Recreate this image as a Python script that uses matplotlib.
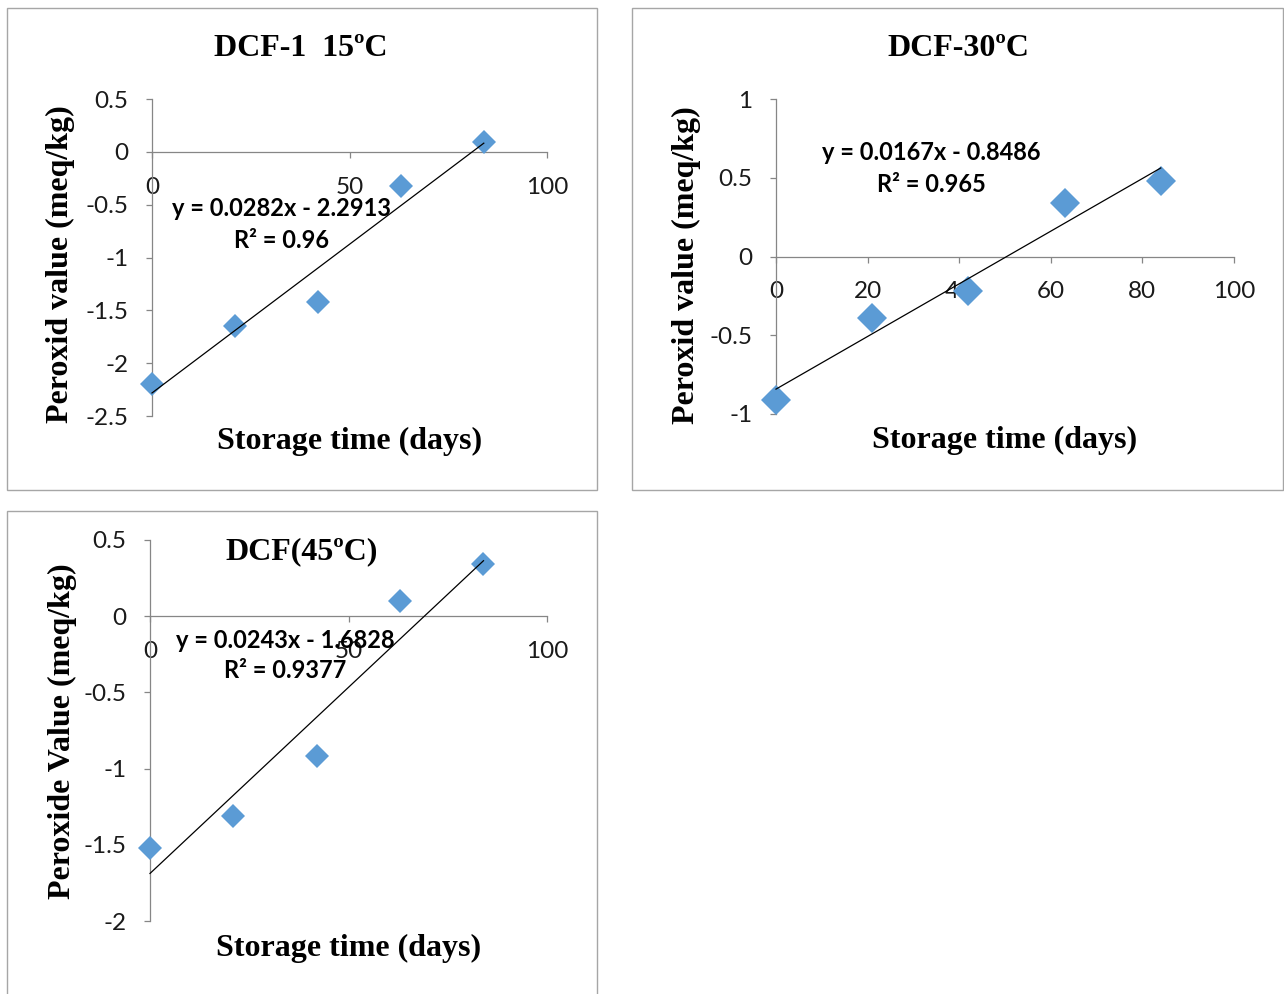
"""
    Peroxide value vs storage time, three DCF panels
"""

import matplotlib
matplotlib.use('Agg')
import matplotlib.pyplot as plt
from matplotlib.patches import Rectangle
import numpy as np

W, H = 1284, 994

days = [0, 21, 42, 63, 84]

pv_15 = [-2.20, -1.65, -1.42, -0.32, 0.09]
pv_30 = [-0.91, -0.39, -0.22, 0.34, 0.48]
pv_45 = [-1.52, -1.31, -0.92, 0.10, 0.34]

titles = ['DCF-1  15ºC', 'DCF-30ºC', 'DCF(45ºC)']
ylabels = ['Peroxid value (meq/kg)', 'Peroxid value (meq/kg)', 'Peroxide Value (meq/kg)']
xlabel = 'Storage time (days)'
eqs = ['y = 0.0282x - 2.2913', 'y = 0.0167x - 0.8486', 'y = 0.0243x - 1.6828']
r2s = ['R² = 0.96', 'R² = 0.965', 'R² = 0.9377']

xticks = [[0, 50, 100], [0, 20, 40, 60, 80, 100], [0, 50, 100]]
yticks = [[-2.5, -2, -1.5, -1, -0.5, 0, 0.5],
          [-1, -0.5, 0, 0.5, 1],
          [-2, -1.5, -1, -0.5, 0, 0.5]]

BLUE = '#5B9BD5'
GRAY = '#868686'
SERIF = 'Liberation Serif'
SANS = 'Lato'

plt.rcParams['axes.unicode_minus'] = False


def fx(x):
    return x / W


def fy(y):
    return 1 - y / H


# panel layout in pixels: axes box (l, t, r, b), border box, text centres
panels = [
    dict(data=pv_15, ax=(152, 99, 547, 416), box=(7, 8, 597, 490),
         title=(301, 49), xl=(350, 441), yl=(60, 264), eq=(282, 209), r2=(282, 240), ms=12),
    dict(data=pv_30, ax=(776, 99, 1234, 414), box=(632, 8, 1283, 490),
         title=(958, 49), xl=(1005, 440), yl=(686, 265), eq=(931, 153), r2=(931, 184), ms=15),
    dict(data=pv_45, ax=(150, 540, 547, 921), box=(7, 511, 597, 1000),
         title=(302, 552), xl=(349, 948), yl=(62, 731), eq=(285, 640), r2=(285, 671), ms=12),
]

fig = plt.figure(figsize=(W / 100, H / 100), dpi=100)

for i, p in enumerate(panels):
    l, t, r, b = p['box']
    fig.patches.append(Rectangle((fx(l), fy(b)), fx(r - l), (b - t) / H,
                                 transform=fig.transFigure, fill=False,
                                 edgecolor='#A6A6A6', linewidth=1.0))

    l, t, r, b = p['ax']
    ax = fig.add_axes([fx(l), fy(b), fx(r - l), (b - t) / H])
    ax.patch.set_alpha(0)

    y = np.array(p['data'])
    x = np.array(days)
    ax.plot(x, y, 'D', color=BLUE, markersize=p['ms'], markeredgewidth=0,
            zorder=3, clip_on=False)

    k, c = np.polyfit(x, y, 1)
    ax.plot([x[0], x[-1]], [k * x[0] + c, k * x[-1] + c], color='black',
            linewidth=0.9, zorder=4, clip_on=False)

    ax.set_xlim(xticks[i][0], xticks[i][-1])
    ax.set_ylim(yticks[i][0], yticks[i][-1])
    ax.set_xticks(xticks[i])
    ax.set_yticks(yticks[i])
    ax.set_xticklabels(['%g' % v for v in xticks[i]])
    ax.set_yticklabels(['%g' % v for v in yticks[i]])

    ax.spines['top'].set_visible(False)
    ax.spines['right'].set_visible(False)
    ax.spines['bottom'].set_position(('data', 0))
    for s in ('left', 'bottom'):
        ax.spines[s].set_color(GRAY)
        ax.spines[s].set_linewidth(0.9)
    ax.tick_params(axis='both', colors=GRAY, length=4, width=0.9,
                   labelcolor='#1a1a1a', labelsize=17.5)
    ax.tick_params(axis='x', pad=14)
    ax.tick_params(axis='y', pad=13)
    for lab in ax.get_xticklabels() + ax.get_yticklabels():
        lab.set_family(SANS)

    fig.text(fx(p['title'][0]), fy(p['title'][1]), titles[i], family=SERIF,
             weight='bold', fontsize=23, ha='center', va='center')
    fig.text(fx(p['xl'][0]), fy(p['xl'][1]), xlabel, family=SERIF,
             weight='bold', fontsize=23, ha='center', va='center')
    fig.text(fx(p['yl'][0]), fy(p['yl'][1]), ylabels[i], family=SERIF,
             weight='bold', fontsize=23, ha='center', va='center', rotation=90)
    fig.text(fx(p['eq'][0]), fy(p['eq'][1]), eqs[i], family=SANS,
             weight='bold', fontsize=17, ha='center', va='center', zorder=5)
    fig.text(fx(p['r2'][0]), fy(p['r2'][1]), r2s[i], family=SANS,
             weight='bold', fontsize=17, ha='center', va='center', zorder=5)

fig.savefig('out.png', dpi=100)
